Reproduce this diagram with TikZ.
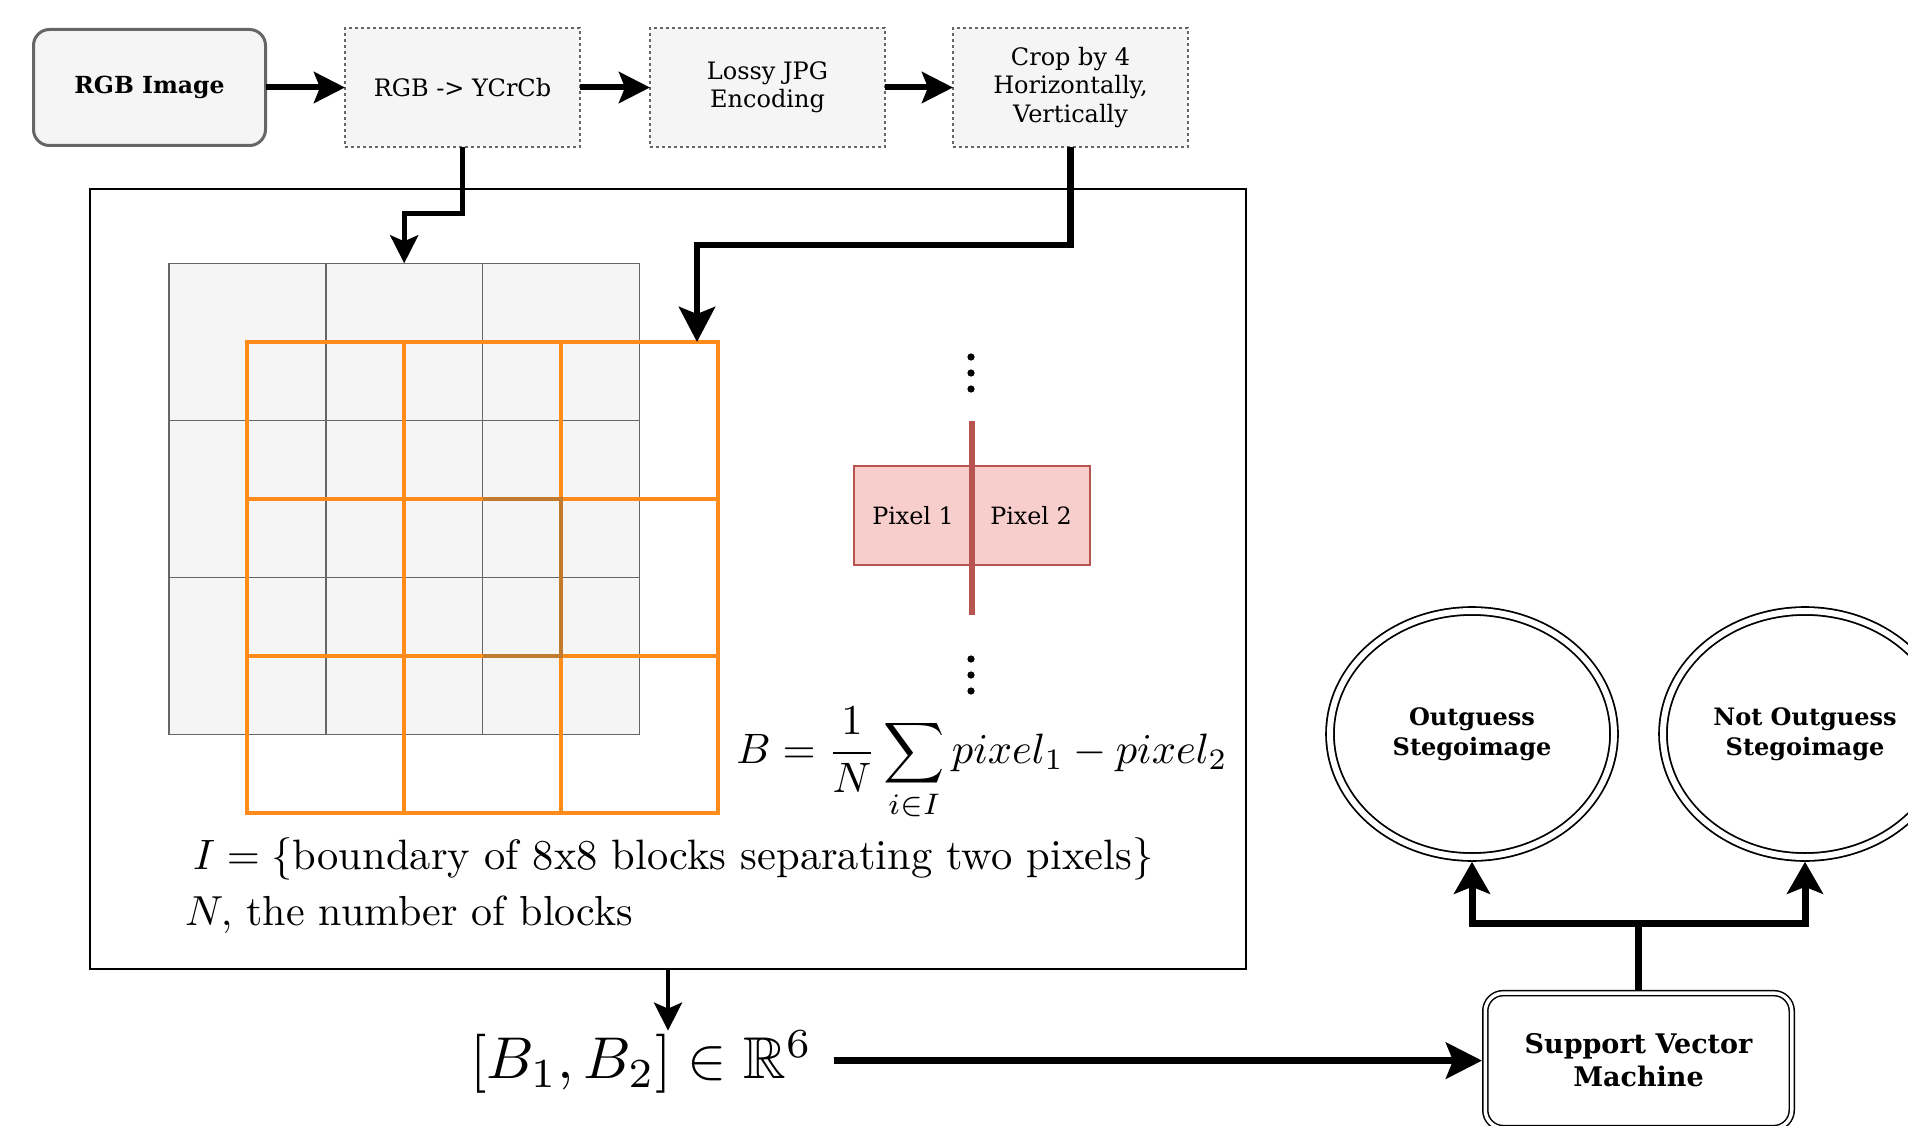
\RequirePackage{fix-cm}
\documentclass[tikz,border=0pt]{standalone}
\usepackage{amsmath,amssymb}
\usepackage{graphicx}
\usepackage{fontspec}
\newfontfamily\dvs{DejaVu Serif}
\usetikzlibrary{arrows.meta,shapes.geometric}
\definecolor{boxfill}{HTML}{F5F5F5}
\definecolor{boxline}{HTML}{666666}
\definecolor{orng}{HTML}{FF8C1A}
\definecolor{brn}{HTML}{C27A2E}
\definecolor{pinkf}{HTML}{F8CECC}
\definecolor{redl}{HTML}{B85450}
\begin{document}
\begin{tikzpicture}[x=1pt,y=-1pt,
  every node/.style={inner sep=0pt, outer sep=0pt},
  startbox/.style={draw=boxline, fill=boxfill, line width=3pt, rounded corners=16pt,
    minimum width=232pt, minimum height=116pt, align=center,
    font=\dvs\bfseries\fontsize{23.5}{28}\selectfont},
  stepbox/.style={draw=boxline, fill=boxfill, dash pattern=on 3pt off 3pt, line width=1.5pt,
    minimum width=235pt, minimum height=119pt, align=center,
    font=\dvs\fontsize{24}{28.5}\selectfont},
  pixbox/.style={draw=redl, fill=pinkf, line width=1.5pt, minimum width=118pt,
    minimum height=99pt, font=\dvs\fontsize{23.8}{28}\selectfont},
  outcome/.style={ellipse, draw=black, double, double distance=6pt, line width=1.8pt,
    minimum width=284pt, minimum height=246pt, outer sep=4.8pt, align=center,
    font=\dvs\bfseries\fontsize{24}{30}\selectfont},
  svmbox/.style={draw=black, double, double distance=3.5pt, line width=1.5pt,
    rounded corners=18pt, minimum width=306.5pt, minimum height=135pt, outer sep=3.25pt,
    align=center, font=\dvs\bfseries\fontsize{27}{33}\selectfont},
  toparr/.style={line width=6pt, -{Stealth[length=31pt,width=31pt,inset=6pt]}},
  croparr/.style={line width=6.5pt, -{Stealth[length=35pt,width=36pt,inset=7pt]}},
  thinarr/.style={line width=5pt, -{Stealth[length=28pt,width=28pt,inset=6pt]}},
  vecarr/.style={line width=7pt, -{Stealth[length=36pt,width=36pt,inset=7pt]}},
  outarr/.style={line width=7pt, -{Stealth[length=32pt,width=36pt,inset=7pt]}},
]
\useasboundingbox (0,0) rectangle (1908,1126);
\fill[white] (0,0) rectangle (1908,1126);

% top row
\node[startbox] (rgb) at (149.5,87.5) {RGB Image};
\node[stepbox] (ycc) at (462.5,87.5) {RGB -> YCrCb};
\node[stepbox] (jpg) at (767.5,87.5) {Lossy JPG\\Encoding};
\node[stepbox] (crop) at (1070.5,87.5) {Crop by 4\\Horizontally,\\Vertically};
\draw[toparr] (rgb.east) -- (ycc.west);
\draw[toparr] (ycc.east) -- (jpg.west);
\draw[toparr] (jpg.east) -- (crop.west);

% panel
\node[draw=black, line width=2pt, minimum width=1156pt, minimum height=780pt] (panel) at (668,579) {};

% gray grid
\node[draw=boxline, fill=boxfill, line width=1.5pt, minimum width=470.4pt, minimum height=471pt] (gray) at (404.2,498.8) {};
\foreach \gx in {325.8,482.6}
  \draw[boxline, line width=1.5pt] (\gx,263.3) -- (\gx,734.3);
\foreach \gy in {420.3,577.3}
  \draw[boxline, line width=1.5pt] (169,\gy) -- (639.4,\gy);

% orange grid
\draw[orng, line width=4pt] (246.5,342) rectangle (717.5,813);
\foreach \ox in {403.5,560.5}
  \draw[orng, line width=4pt] (\ox,342) -- (\ox,813);
\foreach \oy in {499,656}
  \draw[orng, line width=4pt] (246.5,\oy) -- (717.5,\oy);
\draw[brn, line width=4pt] (482.6,499) -- (560.5,499) -- (560.5,656) -- (482.6,656);

% arrows into the panel
\coordinate (ybend) at (404.2,214);
\coordinate (cbend) at (697,245);
\coordinate (otop) at (697,342);
\draw[thinarr] (ycc.south) |- (ybend) -- (gray.north);
\draw[croparr] (crop.south) |- (cbend) -- (otop);

% pixel pair
\node[pixbox] (p1) at (913,515.5) {Pixel 1};
\node[pixbox] (p2) at (1031,515.5) {Pixel 2};
\draw[redl, line width=6pt] (972,421) -- (972,614.5);
\foreach \dy in {357,373,389,659,675,691}
  \fill[black] (971,\dy) circle (3.6);

% formulas
\node (bform) at (982,764) {\scalebox{4.25}{$\displaystyle B=\frac{1}{N}\sum_{i\in I} pixel_1-pixel_2$}};
\node[anchor=base west] (iset) at (193,869) {\scalebox{4.25}{$I=\{\text{boundary of 8x8 blocks separating two pixels}\}$}};
\node[anchor=base west] (nnum) at (185,925) {\scalebox{4.2}{$N,$ the number of blocks}};

% feature vector
\node[anchor=west] (vec) at (470,1062) {\scalebox{5.9}{$[B_1,B_2]\in\mathbb{R}^6$}};
\draw[thinarr, line width=4.5pt] (panel.south) -- (panel.south |- vec.north);

% classifier
\node[svmbox] (svm) at (1638.5,1060.6) {Support Vector\\Machine};
\draw[vecarr] ([xshift=21pt]vec.east |- svm.west) -- (svm.west);

\node[outcome] (o1) at (1472,734) {Outguess\\Stegoimage};
\node[outcome] (o2) at (1805,734) {Not Outguess\\Stegoimage};
\coordinate (junc) at (1638.5,923);
\draw[outarr] (svm.north) -- (junc) -| (o1.south);
\draw[outarr] (svm.north) -- (junc) -| (o2.south);
\end{tikzpicture}
\end{document}
